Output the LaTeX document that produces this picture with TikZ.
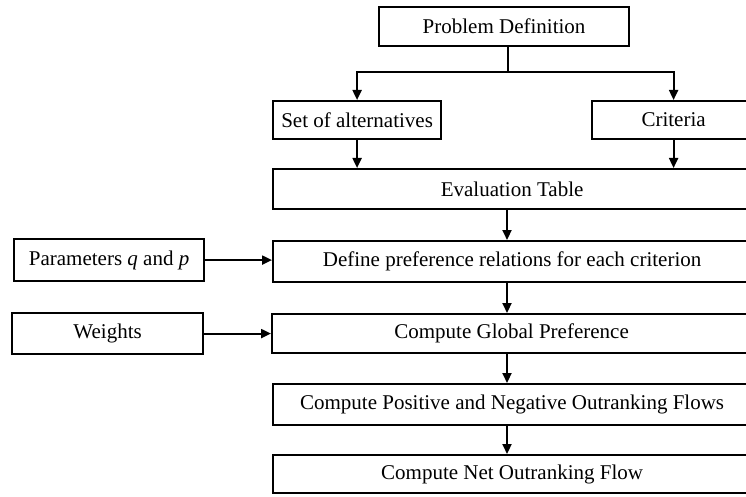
\documentclass[tikz,border=0pt]{standalone}
\usepackage{fontspec}
\setmainfont{Liberation Serif}
\usetikzlibrary{arrows.meta}
\begin{document}
\begin{tikzpicture}[x=1pt,y=-1pt,
  box/.style={draw,line width=2.2pt,inner sep=0pt,anchor=north west,font=\fontsize{21}{25}\selectfont},
  arr/.style={line width=2.2pt,-{Triangle[length=10pt,width=9pt]}},
  ln/.style={line width=2.2pt}]
\useasboundingbox (0,0) rectangle (746,497);
\node[box,minimum width=250pt,minimum height=39pt] (pd) at (378,6) {Problem Definition};
\node[box,minimum width=168pt,minimum height=38pt] (sa) at (272,100) {Set of alternatives};
\node[box,minimum width=163pt,minimum height=38pt] (cr) at (591,100) {Criteria};
\node[box,minimum width=478pt,minimum height=40pt] (et) at (272,168) {Evaluation Table};
\node[box,minimum width=190pt,minimum height=42pt] (pq) at (13,238) {Parameters \textit{q} and \textit{p}};
\node[box,minimum width=478pt,minimum height=41pt] (dp) at (272,240) {Define preference relations for each criterion};
\node[box,minimum width=191pt,minimum height=41pt] (w) at (11,312) {Weights};
\node[box,minimum width=479pt,minimum height=39pt] (gp) at (271,313) {Compute Global Preference};
\node[box,minimum width=478pt,minimum height=41pt] (pn) at (272,383) {Compute Positive and Negative Outranking Flows};
\node[box,minimum width=478pt,minimum height=38pt] (no) at (272,454) {Compute Net Outranking Flow};
\coordinate (j) at (508,72);
\coordinate (ax) at (507,0);
\draw[ln] (pd.south -| j) -- (j);
\draw[arr] (j) -| (sa.north);
\draw[arr] (j) -| (cr.north);
\draw[arr] (sa.south) -- (sa.south |- et.north);
\draw[arr] (cr.south) -- (cr.south |- et.north);
\draw[arr] (et.south -| ax) -- (dp.north -| ax);
\draw[arr] (dp.south -| ax) -- (gp.north -| ax);
\draw[arr] (gp.south -| ax) -- (pn.north -| ax);
\draw[arr] (pn.south -| ax) -- (no.north -| ax);
\draw[arr] (pq.east) -- (pq.east -| dp.west);
\draw[arr] (w.east) -- (w.east -| gp.west);
\end{tikzpicture}
\end{document}
